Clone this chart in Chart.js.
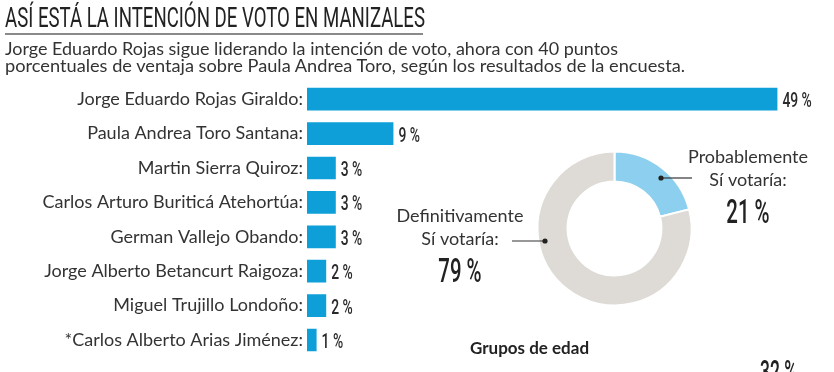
<!DOCTYPE html>
<html>
<head>
<meta charset="utf-8">
<script src="https://cdn.jsdelivr.net/npm/chart.js@4.4.0/dist/chart.umd.min.js"></script>
<style>
body { margin: 0; width: 834px; height: 372px; overflow: hidden; background: #fff; position: relative; font-family: Lato, sans-serif; color: #333; }
canvas { position: absolute; }
#barChart { left: 0; top: 0; }
#donutChart { left: 390px; top: 130px; }
.txt { position: absolute; white-space: nowrap; transform-origin: 0 0; }
#title { left: 5px; top: 4px; font: 28px Roboto, sans-serif; line-height: 28px; color: #222; }
#rule { position: absolute; left: 5px; top: 33px; width: 418px; height: 2px; background: #8a8a8a; }
.sub { left: 5px; font: 18px Lato, sans-serif; line-height: 17px; color: #333; }
#groups { left: 470px; top: 339px; font: bold 17px Lato, sans-serif; line-height: 17px; color: #222; }
#age { left: 760px; top: 355px; font: 500 32px Roboto, sans-serif; line-height: 32px; color: #222; }
</style>
</head>
<body>
<canvas id="barChart" width="834" height="372"></canvas>
<canvas id="donutChart" width="444" height="190"></canvas>
<div id="title" class="txt" data-w="420">ASÍ ESTÁ LA INTENCIÓN DE VOTO EN MANIZALES</div>
<div id="rule"></div>
<div class="txt sub" style="top:40px" data-w="613">Jorge Eduardo Rojas sigue liderando la intención de voto, ahora con 40 puntos</div>
<div class="txt sub" style="top:57px" data-w="680">porcentuales de ventaja sobre Paula Andrea Toro, según los resultados de la encuesta.</div>
<div id="groups" class="txt">Grupos de edad</div>
<div id="age" class="txt" data-w="37">32 %</div>
<script>
// Intención de voto por candidato
const candidates = [
    'Jorge Eduardo Rojas Giraldo:',
    'Paula Andrea Toro Santana:',
    'Martin Sierra Quiroz:',
    'Carlos Arturo Buriticá Atehortúa:',
    'German Vallejo Obando:',
    'Jorge Alberto Betancurt Raigoza:',
    'Miguel Trujillo Londoño:',
    '*Carlos Alberto Arias Jiménez:'
];
const votePct = [49, 9, 3, 3, 3, 2, 2, 1];

// Certeza del voto
const certaintyLabels = [['Probablemente', 'Sí votaría:'], ['Definitivamente', 'Sí votaría:']];
const certaintyPct = [21, 79];

const textColor = '#333333';

// Squeeze html text to the width it has in the print graphic
document.querySelectorAll('[data-w]').forEach(el => {
    const w = el.getBoundingClientRect().width;
    el.style.transform = 'scaleX(' + (parseFloat(el.dataset.w) / w) + ')';
});

/**
 * Value labels at the end of each bar, condensed
 */
const barValueLabels = {
    id: 'barValueLabels',
    afterDatasetsDraw(chart) {
        const ctx = chart.ctx;
        const meta = chart.getDatasetMeta(0);
        ctx.save();
        ctx.fillStyle = '#2a2a2a';
        ctx.font = '500 21px Roboto';
        ctx.textBaseline = 'alphabetic';
        meta.data.forEach((bar, i) => {
            ctx.save();
            ctx.translate(bar.x + 5, bar.y + 8);
            ctx.scale(0.66, 1);
            ctx.fillText(votePct[i] + ' %', 0, 0);
            ctx.restore();
        });
        ctx.restore();
    }
};

/**
 * Callout notes beside the doughnut
 */
const donutNotes = {
    id: 'donutNotes',
    afterDraw(chart) {
        const ctx = chart.ctx;
        const arc = chart.getDatasetMeta(0).data[0];
        const cx = arc.x, cy = arc.y;
        const notes = [
            { tx: 133.5, ty: -65.5, dot: [46.5, -50.5], lineTo: 77.5 },
            { tx: -154.5, ty: -6.5, dot: [-69.5, 12.5], lineTo: -102.5 }
        ];
        ctx.save();
        notes.forEach((n, i) => {
            ctx.fillStyle = textColor;
            ctx.font = '18px Lato';
            ctx.textAlign = 'center';
            ctx.textBaseline = 'alphabetic';
            certaintyLabels[i].forEach((line, j) => {
                ctx.fillText(line, cx + n.tx, cy + n.ty + j * 23);
            });
            ctx.save();
            ctx.translate(cx + n.tx, cy + n.ty + 60);
            ctx.scale(0.6, 1);
            ctx.font = '500 34px Roboto';
            ctx.fillStyle = '#222';
            ctx.fillText(certaintyPct[i] + ' %', 0, 0);
            ctx.restore();

            ctx.strokeStyle = '#333';
            ctx.lineWidth = 1.2;
            ctx.beginPath();
            ctx.moveTo(cx + n.dot[0], cy + n.dot[1]);
            ctx.lineTo(cx + n.lineTo, cy + n.dot[1]);
            ctx.stroke();
            ctx.fillStyle = '#222';
            ctx.beginPath();
            ctx.arc(cx + n.dot[0], cy + n.dot[1], 2.6, 0, Math.PI * 2);
            ctx.fill();
        });
        ctx.restore();
    }
};

new Chart(document.getElementById('barChart'), {
    type: 'bar',
    data: {
        labels: candidates,
        datasets: [{
            data: votePct,
            backgroundColor: '#0e9fd9',
            borderWidth: 0,
            barPercentage: 0.66,
            categoryPercentage: 1
        }]
    },
    options: {
        indexAxis: 'y',
        responsive: false,
        animation: false,
        layout: { padding: { left: 0, right: 47, top: 82, bottom: 3.5 } },
        scales: {
            x: { display: false, min: 0, max: 50 },
            y: {
                grid: { display: false, drawTicks: false },
                border: { display: false },
                ticks: {
                    color: textColor,
                    font: { family: 'Lato', size: 18 },
                    padding: 4
                },
                afterFit(scale) { scale.width = 307; }
            }
        },
        plugins: {
            legend: { display: false },
            tooltip: { enabled: false }
        }
    },
    plugins: [barValueLabels]
});

new Chart(document.getElementById('donutChart'), {
    type: 'doughnut',
    data: {
        labels: certaintyLabels,
        datasets: [{
            data: certaintyPct,
            backgroundColor: ['#8dcfee', '#dedad5'],
            borderColor: '#ffffff',
            borderWidth: 2
        }]
    },
    options: {
        responsive: false,
        animation: false,
        cutout: '61%',
        layout: { padding: { left: 146.5, right: 141.5, top: 20.5, bottom: 13.5 } },
        plugins: {
            legend: { display: false },
            tooltip: { enabled: false }
        }
    },
    plugins: [donutNotes]
});
</script>
</body>
</html>
